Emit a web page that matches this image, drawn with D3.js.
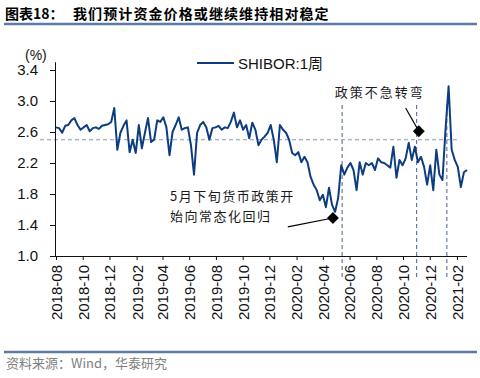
<!DOCTYPE html>
<html><head><meta charset="utf-8">
<script src="https://cdn.jsdelivr.net/npm/d3@7"></script>
<style>
html,body{margin:0;padding:0;background:#fff;}
svg{display:block;font-family:"Liberation Sans",Arial,"Noto Sans CJK SC",sans-serif;}
</style></head>
<body>
<svg id="c" width="480" height="378"></svg>
<script>
// ---- data ----
const seriesName = "SHIBOR:1周";
const startDate = "2018-08-01";   // first weekly observation
const stepDays = 7;
const shibor1w = [
 2.66,2.65,2.59,2.68,2.69,2.75,2.78,2.69,2.63,2.66,
 2.69,2.61,2.65,2.66,2.64,2.68,2.69,2.70,2.73,2.91,
 2.37,2.59,2.68,2.75,2.34,2.50,2.33,2.69,2.39,2.59,
 2.78,2.47,2.50,2.75,2.73,2.79,2.66,2.30,2.60,2.69,
 2.79,2.63,2.65,2.66,2.43,2.05,2.59,2.69,2.73,2.66,
 2.50,2.65,2.66,2.68,2.63,2.66,2.65,2.73,2.85,2.66,
 2.75,2.63,2.69,2.52,2.72,2.63,2.43,2.50,2.54,2.59,
 2.69,2.50,2.21,2.69,2.63,2.59,2.50,2.33,2.30,2.34,
 2.21,2.28,2.21,2.02,1.92,1.85,1.72,1.79,1.63,1.88,
 1.66,1.57,1.75,2.17,2.05,2.14,2.20,2.11,1.85,2.21,
 2.05,2.20,2.17,2.20,2.11,2.26,2.21,2.20,2.17,2.14,
 2.41,2.01,2.24,2.17,2.26,2.46,2.24,2.41,2.21,2.28,
 2.15,1.92,2.17,1.85,2.37,2.05,1.98,2.63,3.19,2.37,
 2.24,2.15,1.89,2.08,2.11
];
const xDomain = ["2018-08-01","2021-02-24"];
const xTickLabels = ["2018-08","2018-10","2018-12","2019-02","2019-04","2019-06","2019-08",
  "2019-10","2019-12","2020-02","2020-04","2020-06","2020-08","2020-10","2020-12","2021-02"];
const yDomain = [1.0, 3.5];
const yTicks = [1.0, 1.4, 1.8, 2.2, 2.6, 3.0, 3.4];
const refLevel = 2.5;
const refLevelEnd = "2021-02-01";
const vLineDates = ["2020-05-15","2020-11-01","2021-01-09"];
const vLineTop = 2.95;
const annotations = [
  {text:["政策不急转弯"], textDate:"2020-04-28", textValue:3.05,
   from:["2020-10-07",2.91], marker:["2020-11-06",2.61]},
  {text:["5月下旬货币政策开","始向常态化回归"], textDate:"2019-04-18", textValue:1.71,
   from:["2020-01-12",1.375], marker:["2020-04-24",1.49]}
];
const titleLabel = "图表18：";
const title = "我们预计资金价格或继续维持相对稳定";
const source = "资料来源：Wind，华泰研究";

// ---- chart ----
const parse = d3.timeParse("%Y-%m-%d");
const parseM = d3.timeParse("%Y-%m");
const start = parse(startDate);
const data = shibor1w.map((v,i)=>({date:d3.timeDay.offset(start, i*stepDays), value:v}));

const svg = d3.select("#c");
const m = {left:56, right:13, top:62.25, bottom:122};
const W = 480, H = 378;
const x = d3.scaleTime().domain(xDomain.map(parse)).range([m.left, W-m.right]);
const y = d3.scaleLinear().domain(yDomain).range([H-m.bottom, m.top]);

const ink = "#111";
const blue = "#0d3d80";

// title
svg.append("text").attr("x",5).attr("y",19).attr("font-size",14).attr("font-weight","bold")
  .attr("fill","#000").attr("font-family","'Noto Sans CJK SC',sans-serif").text(titleLabel);
svg.append("text").attr("x",73).attr("y",19).attr("font-size",14).attr("font-weight","bold")
  .attr("letter-spacing",1.1)
  .attr("fill","#000").attr("font-family","'Noto Sans CJK SC',sans-serif").text(title);
svg.append("line").attr("x1",4).attr("x2",477).attr("y1",24).attr("y2",24)
  .attr("stroke","#5b7ba6").attr("stroke-width",2.5);

// footer
svg.append("line").attr("x1",4).attr("x2",477).attr("y1",352).attr("y2",352)
  .attr("stroke","#5b7ba6").attr("stroke-width",2.5);
svg.append("text").attr("x",6).attr("y",368).attr("font-size",13).attr("fill","#7f7f7f")
  .attr("font-family","'Noto Sans CJK SC','Liberation Sans',sans-serif").text(source);

// reference lines
const dash = "4,3";
svg.append("line")
  .attr("x1", x.range()[0]-16).attr("x2", x(parse(refLevelEnd)))
  .attr("y1", y(refLevel)).attr("y2", y(refLevel))
  .attr("stroke","#8d96b3").attr("stroke-width",1.2).attr("stroke-dasharray",dash);
svg.selectAll(".vl").data(vLineDates).join("line").attr("class","vl")
  .attr("x1",d=>x(parse(d))).attr("x2",d=>x(parse(d)))
  .attr("y1", y(vLineTop)).attr("y2", y(yDomain[0])+21)
  .attr("stroke","#5a6d9c").attr("stroke-width",1.1).attr("stroke-dasharray",dash);

// axes
const yAxis = d3.axisLeft(y).tickValues(yTicks).tickSize(6).tickPadding(12)
  .tickFormat(d3.format(".1f"));
const gy = svg.append("g").attr("transform",`translate(${m.left},0)`).call(yAxis);
gy.select(".domain").attr("stroke",ink).attr("d",`M-0.5,${y(yDomain[1])}V${y(yDomain[0])}`);
gy.selectAll(".tick line").attr("stroke",ink);
gy.selectAll("text").attr("font-size",15).attr("fill",ink).attr("font-family","'Liberation Sans',Arial,sans-serif");

const xAxis = d3.axisBottom(x).tickValues(xTickLabels.map(parseM)).tickSize(4)
  .tickFormat(d3.timeFormat("%Y-%m"));
const gx = svg.append("g").attr("transform",`translate(0,${y(yDomain[0])})`).call(xAxis);
gx.select(".domain").attr("stroke",ink).attr("d",`M${x.range()[0]},0.5H${x.range()[1]}`);
gx.selectAll(".tick line").attr("stroke",ink);
gx.selectAll("text").attr("font-size",15).attr("fill",ink)
  .attr("font-family","'Liberation Sans',Arial,sans-serif")
  .attr("transform","rotate(-90)").attr("text-anchor","end")
  .attr("x",-9).attr("y",0).attr("dy","0.36em");

svg.append("text").attr("x",25).attr("y",60).attr("font-size",14).attr("fill",ink)
  .attr("font-family","'Liberation Sans',Arial,sans-serif").text("(%)");

// series line
const line = d3.line().x(d=>x(d.date)).y(d=>y(d.value)).curve(d3.curveLinear);
svg.append("path").datum(data).attr("d",line).attr("fill","none")
  .attr("stroke",blue).attr("stroke-width",2).attr("stroke-linejoin","round");

// legend
svg.append("line").attr("x1",197).attr("x2",234).attr("y1",63).attr("y2",63)
  .attr("stroke",blue).attr("stroke-width",2.2);
svg.append("text").attr("x",238).attr("y",68.5).attr("font-size",15).attr("fill",ink)
  .attr("font-family","'Liberation Sans',Arial,'Noto Sans CJK SC',sans-serif").text(seriesName);

// annotations
annotations.forEach(a=>{
  const [fd,fv] = a.from, [md,mv] = a.marker;
  svg.append("line").attr("x1",x(parse(fd))).attr("y1",y(fv))
    .attr("x2",x(parse(md))).attr("y2",y(mv)).attr("stroke","#000").attr("stroke-width",1.2);
  svg.append("rect").attr("x",-4.2).attr("y",-4.2).attr("width",8.4).attr("height",8.4)
    .attr("fill","#000")
    .attr("transform",`translate(${x(parse(md))},${y(mv)}) rotate(45)`);
  a.text.forEach((t,i)=>{
    svg.append("text").attr("x",x(parse(a.textDate))).attr("y",y(a.textValue)+i*20)
      .attr("font-size",13).attr("letter-spacing",a.text.length>1?1.5:2).attr("fill","#1a1a1a")
      .attr("font-family","'Noto Sans CJK SC',sans-serif").text(t);
  });
});
</script>
</body></html>
